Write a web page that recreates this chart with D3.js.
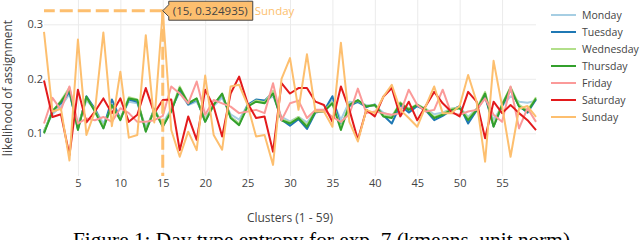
<!DOCTYPE html>
<html>
<head>
<meta charset="utf-8">
<script src="https://d3js.org/d3.v7.min.js"></script>
<style>
  body { margin: 0; background: #fff; }
  svg { display: block; font-family: "Open Sans", Arial, sans-serif; }
</style>
</head>
<body>
<div id="chart"></div>
<script>
// cluster ids 1..59
var clusters = d3.range(1, 60);
var days = ["Monday", "Tuesday", "Wednesday", "Thursday", "Friday", "Saturday", "Sunday"];
var colors = ["#a6cee3", "#1f78b4", "#b2df8a", "#33a02c", "#fb9a99", "#e31a1c", "#fdbf6f"];
var xTicks = [5, 10, 15, 20, 25, 30, 35, 40, 45, 50, 55];
var yTicks = [0.1, 0.2, 0.3];

var monday = [0.105,0.135,0.150,0.172,0.115,0.160,0.145,0.118,0.150,0.128,0.158,0.155,0.112,0.140,0.118,
  0.145,0.175,0.152,0.158,0.128,0.150,0.165,0.135,0.125,0.152,0.160,0.158,0.168,0.130,0.122,
  0.130,0.120,0.140,0.142,0.160,0.125,0.158,0.156,0.152,0.150,0.138,0.132,0.152,0.146,0.150,
  0.145,0.135,0.138,0.145,0.148,0.130,0.145,0.165,0.125,0.150,0.168,0.158,0.156,0.160];
var tuesday = [0.102,0.142,0.155,0.176,0.108,0.168,0.145,0.110,0.162,0.126,0.162,0.158,0.105,0.145,0.113,
  0.142,0.180,0.153,0.162,0.122,0.153,0.170,0.130,0.117,0.152,0.162,0.160,0.175,0.125,0.114,
  0.126,0.108,0.138,0.141,0.168,0.112,0.150,0.158,0.148,0.153,0.133,0.118,0.152,0.138,0.150,
  0.142,0.124,0.132,0.142,0.150,0.118,0.142,0.168,0.113,0.150,0.180,0.150,0.138,0.162];
var wednesday = [0.103,0.140,0.160,0.184,0.110,0.165,0.142,0.112,0.150,0.126,0.166,0.162,0.106,0.144,0.115,
  0.142,0.186,0.156,0.163,0.124,0.153,0.172,0.130,0.118,0.150,0.160,0.157,0.178,0.126,0.120,
  0.130,0.115,0.141,0.142,0.157,0.110,0.153,0.160,0.150,0.152,0.133,0.130,0.157,0.145,0.153,
  0.145,0.130,0.136,0.145,0.147,0.127,0.145,0.176,0.115,0.154,0.185,0.152,0.142,0.166];
var thursday = [0.100,0.140,0.158,0.180,0.106,0.167,0.140,0.109,0.152,0.124,0.164,0.161,0.103,0.143,0.112,
  0.140,0.183,0.155,0.164,0.121,0.152,0.173,0.128,0.115,0.149,0.158,0.155,0.173,0.124,0.118,
  0.128,0.112,0.140,0.140,0.155,0.106,0.152,0.161,0.149,0.152,0.131,0.128,0.155,0.143,0.152,
  0.143,0.128,0.134,0.143,0.146,0.124,0.143,0.173,0.112,0.152,0.183,0.149,0.140,0.164];
var friday = [0.118,0.165,0.143,0.186,0.118,0.127,0.124,0.130,0.121,0.146,0.137,0.121,0.121,0.124,0.132,
  0.186,0.173,0.155,0.195,0.134,0.161,0.155,0.149,0.137,0.140,0.143,0.137,0.192,0.124,0.155,
  0.160,0.128,0.143,0.143,0.130,0.121,0.135,0.182,0.137,0.140,0.137,0.134,0.137,0.180,0.152,
  0.140,0.143,0.180,0.137,0.134,0.140,0.143,0.164,0.134,0.121,0.186,0.109,0.146,0.121];
var saturday = [0.197,0.130,0.135,0.060,0.180,0.120,0.140,0.164,0.137,0.164,0.121,0.134,0.183,0.137,0.161,
  0.162,0.069,0.131,0.088,0.180,0.149,0.094,0.173,0.204,0.155,0.128,0.131,0.066,0.192,0.173,
  0.183,0.183,0.158,0.152,0.121,0.186,0.143,0.088,0.143,0.131,0.167,0.183,0.131,0.158,0.124,
  0.150,0.176,0.155,0.140,0.131,0.176,0.158,0.091,0.158,0.137,0.152,0.137,0.124,0.106];
var sunday = [0.286,0.140,0.145,0.050,0.272,0.097,0.140,0.285,0.113,0.213,0.092,0.097,0.280,0.120,0.324935,
  0.106,0.057,0.103,0.069,0.206,0.097,0.070,0.186,0.189,0.152,0.094,0.097,0.042,0.200,0.238,
  0.143,0.245,0.140,0.140,0.112,0.266,0.121,0.085,0.143,0.137,0.167,0.189,0.143,0.128,0.112,
  0.150,0.186,0.137,0.137,0.150,0.207,0.158,0.048,0.233,0.150,0.057,0.145,0.150,0.130];

var series = [monday, tuesday, wednesday, thursday, friday, saturday, sunday];

var hoverCluster = 15, hoverValue = 0.324935, hoverDay = "Sunday";

var W = 640, H = 240;
var plot = {left: 44, right: 536, top: 0, bottom: 176};

var svg = d3.select("#chart").append("svg")
    .attr("width", W).attr("height", H);

var x = d3.scaleLinear().domain([1, 59]).range([plot.left, plot.right]);
var y = d3.scaleLinear().domain([0.1, 0.3]).range([133.3, 24.3]);

// grid + x tick labels
var gx = svg.append("g")
    .attr("transform", "translate(0," + plot.bottom + ")")
    .call(d3.axisBottom(x).tickValues(xTicks).tickSize(-(plot.bottom - plot.top)).tickPadding(3));
gx.select(".domain").remove();
gx.selectAll(".tick line").attr("stroke", "#ebebeb");
gx.selectAll(".tick text").attr("fill", "#444").style("font-size", "11px")
    .style("font-family", "'Open Sans', Arial, sans-serif");

var gy = svg.append("g")
    .attr("transform", "translate(" + plot.left + ",0)")
    .call(d3.axisLeft(y).tickValues(yTicks).tickFormat(d3.format(".1f"))
        .tickSize(-(plot.right - plot.left)).tickPadding(1));
gy.select(".domain").remove();
gy.selectAll(".tick line").attr("stroke", "#ebebeb");
gy.selectAll(".tick text").attr("fill", "#444").style("font-size", "11px")
    .style("font-family", "'Open Sans', Arial, sans-serif");

// lines
var line = d3.line()
    .x(function(d, i) { return x(clusters[i]); })
    .y(function(d) { return y(d); });

svg.append("g").selectAll("path")
    .data(series)
    .enter().append("path")
    .attr("d", line)
    .attr("fill", "none")
    .attr("stroke", function(d, i) { return colors[i]; })
    .attr("stroke-width", 2)
    .attr("stroke-linejoin", "round");

// hover spikes
var hx = x(hoverCluster), hy = y(hoverValue);
var sunColor = colors[days.indexOf(hoverDay)];
svg.append("line")
    .attr("x1", hx).attr("y1", hy).attr("x2", plot.left).attr("y2", hy)
    .attr("stroke", sunColor).attr("stroke-width", 3).attr("stroke-dasharray", "13,5");
svg.append("line")
    .attr("x1", hx).attr("y1", hy).attr("x2", hx).attr("y2", plot.bottom)
    .attr("stroke", sunColor).attr("stroke-width", 3).attr("stroke-dasharray", "13,5");

// hover label
var boxW = 90, halfH = 9.5;
var hover = svg.append("g").attr("transform", "translate(" + hx + "," + hy + ")");
hover.append("path")
    .attr("d", "M0,0L6,-6V-" + halfH + "H" + boxW + "V" + halfH + "H6V6Z")
    .attr("fill", sunColor)
    .attr("stroke", "#444")
    .attr("stroke-width", 1);
hover.append("text")
    .attr("x", 10).attr("y", 4)
    .attr("fill", "#444")
    .style("font-size", "11.5px")
    .text("(" + hoverCluster + ", " + hoverValue + ")");
hover.append("text")
    .attr("x", boxW + 2).attr("y", 4)
    .attr("fill", sunColor)
    .style("font-size", "11.5px")
    .text(hoverDay);

// legend
var legend = svg.append("g").selectAll("g")
    .data(days)
    .enter().append("g")
    .attr("transform", function(d, i) { return "translate(551," + (15 + i * 17) + ")"; });
legend.append("line")
    .attr("x1", 0).attr("x2", 25)
    .attr("stroke", function(d, i) { return colors[i]; })
    .attr("stroke-width", 2);
legend.append("text")
    .attr("x", 31).attr("y", 4)
    .attr("fill", "#444")
    .style("font-size", "10.5px")
    .text(function(d) { return d; });

// axis titles
svg.append("text")
    .attr("x", 290).attr("y", 222)
    .attr("text-anchor", "middle")
    .attr("fill", "#444")
    .style("font-size", "12px")
    .text("Clusters (1 - 59)");
svg.append("text")
    .attr("transform", "translate(12,88) rotate(-90)")
    .attr("text-anchor", "middle")
    .attr("fill", "#444")
    .style("font-size", "12px")
    .text("likelihood of assignment");

// figure caption (cut off at the bottom, as in the source)
svg.append("text")
    .attr("x", 73).attr("y", 247)
    .attr("fill", "#000")
    .attr("textLength", 497)
    .attr("lengthAdjust", "spacingAndGlyphs")
    .style("font-family", "'Liberation Serif', 'DejaVu Serif', serif")
    .style("font-size", "20px")
    .text("Figure 1: Day type entropy for exp. 7 (kmeans, unit norm)");
</script>
</body>
</html>
